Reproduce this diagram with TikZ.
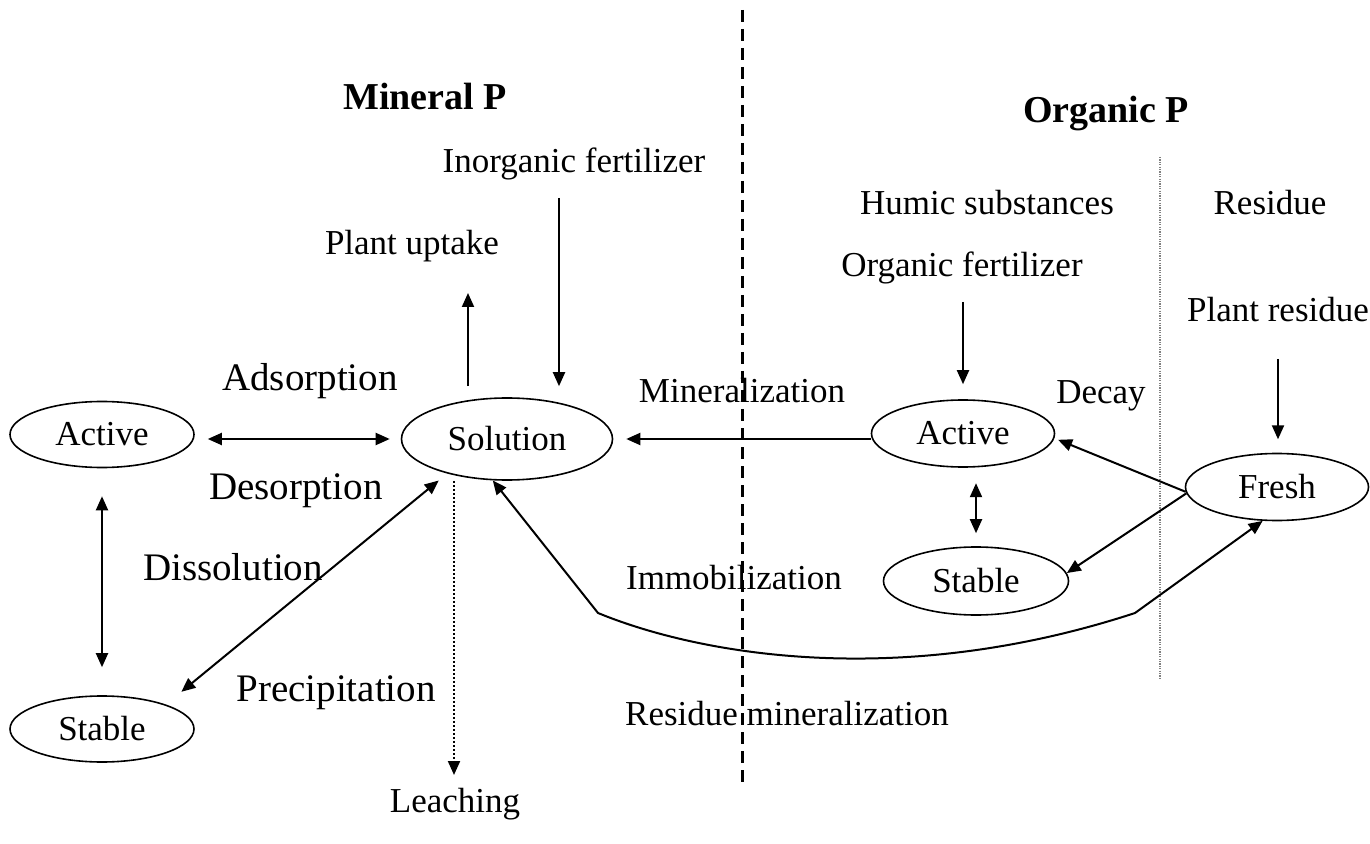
\documentclass[tikz,border=0pt]{standalone}
\usepackage{fontspec}
\setmainfont{Liberation Serif}
\usetikzlibrary{arrows.meta,shapes.geometric}

\begin{document}
\begin{tikzpicture}[x=0.5pt,y=-0.5pt,
  pool/.style={shape=ellipse, draw, line width=0.8pt, inner sep=0pt, minimum width=92pt, minimum height=33pt, font=\fontsize{17.5}{20}\selectfont},
  lbl/.style={anchor=base, inner sep=0pt, font=\fontsize{17.5}{20}\selectfont},
  biglbl/.style={lbl, font=\fontsize{19.5}{22}\selectfont},
  ttl/.style={anchor=base, inner sep=0pt, font=\fontsize{19}{22}\selectfont\bfseries},
  arr/.style={line width=1pt, -{Triangle[length=7pt,width=6pt]}},
  darr/.style={line width=1pt, {Triangle[length=7pt,width=6pt]}-{Triangle[length=7pt,width=6pt]}}]
\useasboundingbox (0,0) rectangle (1370,844);

% dividing lines
\coordinate (divtop) at (742,10);
\coordinate (divbot) at (742,785);
\coordinate (restop) at (1160,157);
\coordinate (resbot) at (1160,680);
\draw[line width=1.5pt, dash pattern=on 6pt off 3.5pt] (divtop) -- (divbot);
\draw[gray, line width=0.8pt, dash pattern=on 0.6pt off 0.6pt] (restop) -- (resbot);

% pools
\node[pool] (actL) at (102,434.5) {Active};
\node[pool] (stabL) at (102,729) {Stable};
\node[pool, minimum width=105.5pt, minimum height=41pt] (sol) at (507,439) {Solution};
\node[pool, minimum width=91.5pt, minimum height=33.5pt] (actR) at (963,433.5) {Active};
\node[pool, minimum width=92.5pt, minimum height=34pt] (stabR) at (976,581) {Stable};
\node[pool, minimum width=91.5pt, minimum height=33.5pt] (fresh) at (1277,487) {Fresh};

% titles and labels
\node[ttl] (minP) at (425,110) {Mineral P};
\node[ttl] (orgP) at (1106,123) {Organic P};
\node[lbl] (inorg) at (574,173) {Inorganic fertilizer};
\node[lbl] (uptake) at (412,255) {Plant uptake};
\node[biglbl] (adsorp) at (310,391) {Adsorption};
\node[biglbl] (desorp) at (296,499) {Desorption};
\node[biglbl] (dissol) at (233,580) {Dissolution};
\node[biglbl] (precip) at (336,701) {Precipitation};
\node[lbl] (leach) at (455,812) {Leaching};
\node[lbl] (minlz) at (742,402) {Mineralization};
\node[lbl] (immob) at (734,589) {Immobilization};
\node[lbl] (resmin) at (787,725) {Residue mineralization};
\node[lbl] (humic) at (987,215) {Humic substances};
\node[lbl] (orgfz) at (962,277) {Organic fertilizer};
\node[lbl] (decay) at (1101,403) {Decay};
\node[lbl] (resid) at (1270,215) {Residue};
\node[lbl] (plres) at (1278,322) {Plant residue};

% free ends
\coordinate (upk) at (468,293);
\coordinate (ifz) at (559,198);
\coordinate (ofz) at (963,302);
\coordinate (prs) at (1278,359);
\coordinate (lch) at (454,775);
\coordinate (bendL) at (598,613);
\coordinate (bendR) at (1135,613);

% fluxes
\path
(actL.east |- sol.west) edge[darr, shorten <=6.5pt, shorten >=5.5pt] (sol.west)
(actL.south) edge[darr, shorten <=14pt, shorten >=14pt] (stabL.north)
(stabL.21.2) edge[darr, shorten <=10pt, shorten >=5.5pt] (sol.210.2)
(upk |- sol.north) edge[arr, shorten <=5.5pt] (upk)
(ifz) edge[arr, shorten >=5.5pt] (ifz |- sol.north)
(lch |- sol.south) edge[arr, dash pattern=on 1pt off 1pt] (lch)
(sol.east -| actR.west) edge[arr, shorten >=6.5pt] (sol.east)
(ofz) edge[arr, shorten >=7.5pt] (ofz |- actR.north)
(actR.south -| stabR.north) edge[darr, shorten <=7.7pt, shorten >=6.5pt] (stabR.north)
(prs) edge[arr, shorten >=6.7pt] (prs |- fresh.north)
(fresh.183) edge[arr, shorten >=2pt] (actR.357)
(fresh.184) edge[arr] (stabR.5);
\draw[darr] (sol.251) -- (bendL) .. controls (700,655) and (900,690) .. (bendR) -- (fresh.247);
\end{tikzpicture}
\end{document}
